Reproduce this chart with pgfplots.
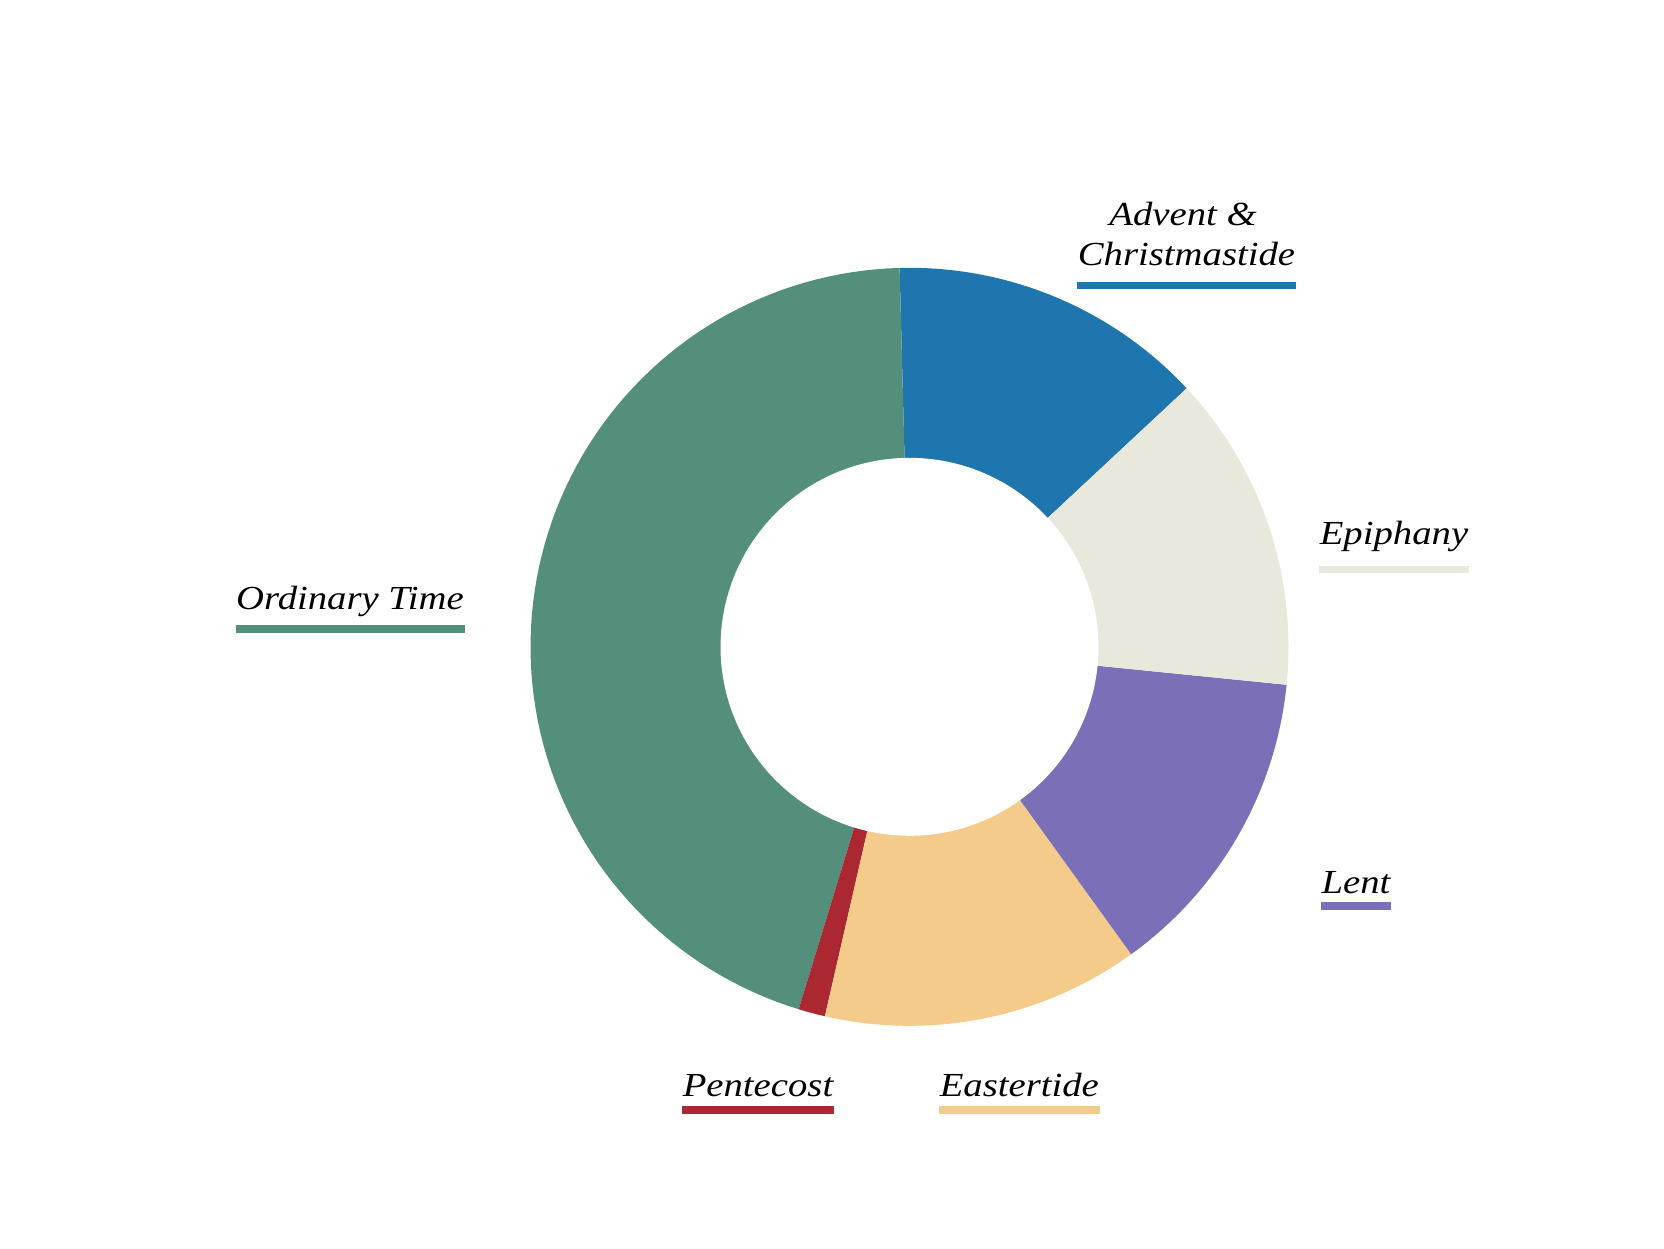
\documentclass[border=0pt]{standalone}
\usepackage{pgfplots}
\pgfplotsset{compat=1.18}
\usepackage{fontspec}
\setmainfont{Liberation Serif}[FakeStretch=1.15]
\definecolor{cAdvent}{HTML}{1F75AE}
\definecolor{cOrd}{HTML}{548F7C}
\definecolor{cEpi}{HTML}{E8E9DC}
\definecolor{cLent}{HTML}{7B70B8}
\definecolor{cEaster}{HTML}{F4CB8B}
\definecolor{cPent}{HTML}{AB2732}
% slice sizes (degrees of the circle)
\def\sAdvent{48.5}
\def\sOrd{161.5}
\def\sPent{4.1}
\def\sEaster{48.7}
\def\sLent{48.45}
\def\sEpi{48.75}
\pgfmathsetmacro\aA{43}
\pgfmathsetmacro\aB{\aA+\sAdvent}
\pgfmathsetmacro\aC{\aB+\sOrd}
\pgfmathsetmacro\aD{\aC+\sPent}
\pgfmathsetmacro\aE{\aD+\sEaster}
\pgfmathsetmacro\aF{\aE+\sLent}
\pgfmathsetmacro\aG{\aF+\sEpi}
\def\cx{909.5}
\def\cy{646.8}
\def\R{379}
\def\r{189}
\newcommand\lbl{\fontsize{10.1pt}{12pt}\selectfont\itshape}
\newcommand\slice[3]{\addplot[fill=#3, draw=none, domain=#1:#2, samples=90, variable=\t] ({\cx+\R*cos(\t)},{\cy-\R*sin(\t)}) -- (axis cs:\cx,\cy) -- cycle;}
\newcommand\lab[6]{%
  \node[font=\lbl, anchor=base, inner sep=0pt] (#1) at (axis cs:#2,#3) {#6};
  \coordinate (#1u) at (axis cs:0,#4);
  \draw[#5, line width=2.3pt] (#1.west |- #1u) -- (#1.east |- #1u);
}
\begin{document}
\begin{tikzpicture}
\begin{axis}[scale only axis, width=499.2pt, height=374.4pt,
  xmin=0, xmax=1664, ymin=0, ymax=1248, y dir=reverse,
  hide axis, clip=false]
\path (rel axis cs:0,0) rectangle (rel axis cs:1,1);
\slice{\aA}{\aB}{cAdvent}
\slice{\aB}{\aC}{cOrd}
\slice{\aC}{\aD}{cPent}
\slice{\aD}{\aE}{cEaster}
\slice{\aE}{\aF}{cLent}
\slice{\aF}{\aG}{cEpi}
\addplot[fill=white, draw=none, domain=0:360, samples=180, variable=\t] ({\cx+\r*cos(\t)},{\cy-\r*sin(\t)}) -- cycle;
\node[font=\lbl, anchor=base, inner sep=0pt] at (axis cs:1183,225) {Advent \&};
\lab{lA}{1186.5}{265}{285.5}{cAdvent}{Christmastide}
\lab{lO}{350}{609.3}{629.2}{cOrd}{Ordinary Time}
\lab{lE}{1394}{544}{569.5}{cEpi}{Epiphany}
\lab{lL}{1356}{893.3}{906}{cLent}{Lent}
\lab{lP}{758}{1096.7}{1110.3}{cPent}{Pentecost}
\lab{lT}{1019.3}{1096.7}{1110.3}{cEaster}{Eastertide}
\end{axis}
\end{tikzpicture}
\end{document}
